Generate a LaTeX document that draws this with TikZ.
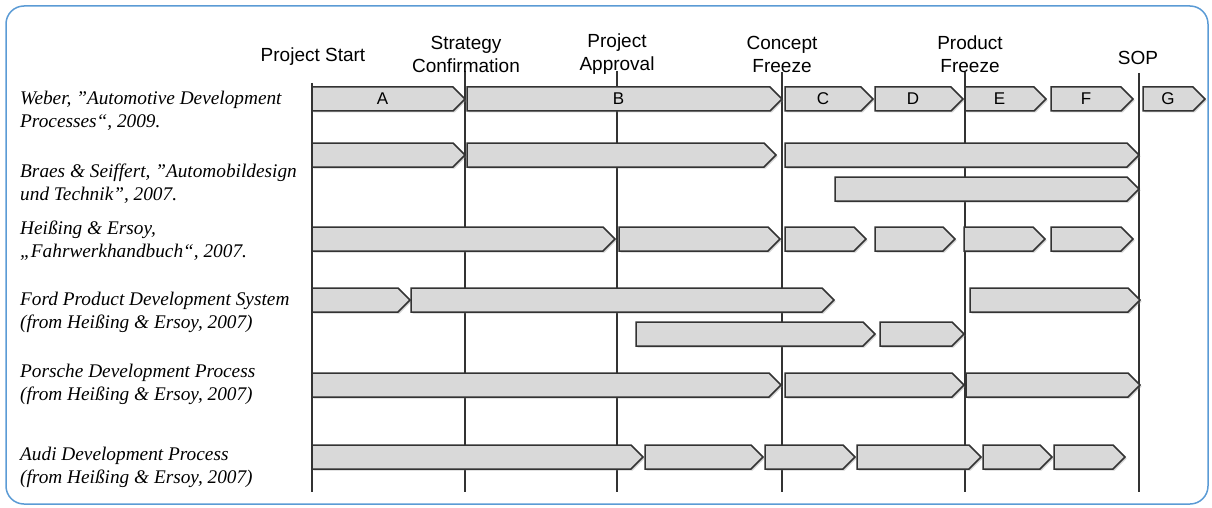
\documentclass[tikz,border=0pt]{standalone}
\usepackage{fontspec}
\setmainfont{Liberation Serif}
\setsansfont{Liberation Sans}
\usepackage{xcolor}
\usetikzlibrary{shadows}
\definecolor{framecolor}{HTML}{5B9BD5}
\definecolor{phasefill}{HTML}{D9D9D9}
\definecolor{phasedraw}{HTML}{333333}
\newcommand{\phase}[3]{% row y, start x, tip x
\draw[phasebox] (#2,#1-12) -- (#3-12,#1-12) -- (#3,#1) -- (#3-12,#1+12) -- (#2,#1+12) -- cycle;}
\tikzstyle{phasebox} = [
    fill=phasefill,
    draw=phasedraw,
    line width=1.5pt,
    drop shadow={shadow xshift=1.5pt, shadow yshift=-1.5pt, opacity=0.35}
    ]
\tikzstyle{milestone} = [draw=phasedraw, line width=1.4pt]
\tikzstyle{mslabel} = [
    font=\sffamily\fontsize{19}{23}\selectfont,
    align=center,
    inner sep=0pt
    ]
\tikzstyle{phaselabel} = [font=\sffamily\fontsize{17}{19}\selectfont, inner sep=0pt]
\tikzstyle{source} = [
    font=\itshape\fontsize{19.3}{23}\selectfont,
    align=left,
    anchor=west,
    inner sep=0pt
    ]

\begin{document}
\begin{tikzpicture}[x=1pt, y=-1pt]
\useasboundingbox (0,0) rectangle (1212,508);
\draw[framecolor, line width=1.5pt, rounded corners=18pt] (6,6) rectangle (1208,504);

% milestone lines
\foreach \x/\top/\n in {312/83/start, 465/71/strategy, 617/71/approval, 782/72/concept, 965/72/product, 1139/73/sop}{
    \coordinate (\n top) at (\x,\top);
    \draw[milestone] (\n top) -- (\x,492);
}
\node[mslabel] (start) at (313,57) {Project Start};
\node[mslabel] (strategy) at (466,54) {Strategy\\Confirmation};
\node[mslabel] (approval) at (617,54) {Project\\Approval};
\node[mslabel] (concept) at (782,54) {Concept\\Freeze};
\node[mslabel] (product) at (970,54) {Product\\Freeze};
\node[mslabel] (sop) at (1138,58) {SOP};

% phases, row by row
\foreach \y/\xa/\xb in {99/312/465, 99/467/782, 99/785/873, 99/875/963, 99/965/1046, 99/1051/1133, 99/1143/1205,
    155/312/465, 155/467/776, 155/785/1139, 189/835/1139,
    239/312/615, 239/619/780, 239/785/866, 239/875/955, 239/964/1045, 239/1051/1133,
    300/312/410, 300/411/834, 300/970/1140, 334/636/875, 334/880/964,
    385/312/781, 385/785/964, 385/966/1140,
    457/312/643, 457/645/763, 457/765/855, 457/857/981, 457/983/1052, 457/1054/1125}
    \phase{\y}{\xa}{\xb};
\foreach \xa/\xb/\t in {312/465/A, 467/782/B, 785/873/C, 875/963/D, 965/1046/E, 1051/1133/F, 1143/1205/G}
    \node[phaselabel] (phase\t) at ({(\xa+\xb-12)/2},99) {\t};

% sources
\node[source] (weber) at (20,111) {Weber, "Automotive Development\\Processes“, 2009.};
\node[source] (braes) at (20,184) {Braes \& Seiffert, "Automobildesign\\und Technik", 2007.};
\node[source] (heissing) at (20,241) {Heißing \& Ersoy,\\„Fahrwerkhandbuch“, 2007.};
\node[source] (ford) at (20,312) {Ford Product Development System\\(from Heißing \& Ersoy, 2007)};
\node[source] (porsche) at (20,384) {Porsche Development Process\\(from Heißing \& Ersoy, 2007)};
\node[source] (audi) at (20,467) {Audi Development Process\\(from Heißing \& Ersoy, 2007)};
\end{tikzpicture}
\end{document}
